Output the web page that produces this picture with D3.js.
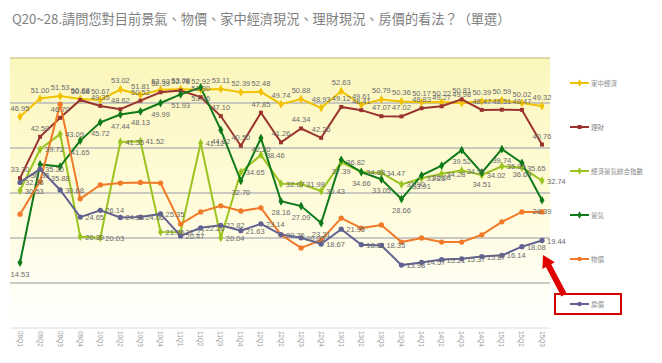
<!DOCTYPE html>
<html>
<head>
<meta charset="utf-8">
<script src="https://cdn.jsdelivr.net/npm/d3@7"></script>
<style>
  body { margin: 0; background: #fff; }
  svg { display: block; }
</style>
</head>
<body>
<div id="chart"></div>
<script>
var quarters = ['09Q1','09Q2','09Q3','09Q4','10Q1','10Q2','10Q3','10Q4','11Q1','11Q2','11Q3','11Q4',
  '12Q1','12Q2','12Q3','12Q4','13Q1','13Q2','13Q3','13Q4','14Q1','14Q2','14Q3','14Q4','15Q1','15Q2','15Q3'];

var family = [46.95,51.00,51.53,50.88,50.67,53.02,51.81,52.93,53.08,52.92,53.11,52.39,52.48,49.74,50.88,
  48.93,52.63,49.61,50.79,50.36,50.17,50.22,49.98,50.39,50.59,50.02,49.32];
var finance = [33.30,42.50,46.70,50.68,49.35,48.62,50.52,52.39,52.78,51.30,47.10,40.50,47.85,41.26,44.34,
  42.26,49.12,48.41,47.07,47.02,48.83,49.27,50.81,48.47,48.51,48.47,40.76];
var composite = [30.53,39.72,43.09,20.30,20.03,41.35,41.52,21.36,21.27,41.12,20.04,34.65,38.46,32.07,31.98,
  30.43,36.82,34.68,34.47,31.90,33.28,34.28,34.97,34.02,35.95,35.65,32.74];
var economy = [14.53,36.35,35.88,41.65,45.72,47.44,48.13,49.99,51.93,53.46,44.02,32.70,42.20,28.16,27.09,
  23.31,37.39,34.66,33.05,28.66,33.91,36.08,39.52,34.51,39.74,36.69,28.39];
var prices = [25.30,32.58,49.75,28.70,31.80,32.20,32.35,32.20,23.10,25.80,27.16,26.00,26.70,20.70,17.80,
  19.50,24.40,22.20,22.90,19.10,20.00,19.10,19.10,20.70,23.60,25.80,25.80];
var housing = [32.36,35.30,30.68,24.65,26.14,24.56,24.66,25.35,20.47,22.26,22.82,21.63,23.14,20.76,20.05,
  18.67,21.95,18.51,18.35,13.98,14.57,15.21,15.37,15.87,16.14,18.08,19.44];

var seriesNames = ['家中經濟','理財','經濟景氣綜合指數','景氣','物價','房價'];
var yTicks = [0,10,20,30,40,50,60];

var series = [
  { name: seriesNames[0], values: family,    color: '#f2c200', symbol: d3.symbolDiamond, label: 'above' },
  { name: seriesNames[1], values: finance,   color: '#9b3430', symbol: d3.symbolSquare,  label: 'above' },
  { name: seriesNames[2], values: composite, color: '#9cc420', symbol: d3.symbolDiamond, label: 'right' },
  { name: seriesNames[3], values: economy,   color: '#0e7a1a', symbol: d3.symbolDiamond, label: 'below' },
  { name: seriesNames[4], values: prices,    color: '#f07a28', symbol: d3.symbolCircle,  label: 'none' },
  { name: seriesNames[5], values: housing,   color: '#626292', symbol: d3.symbolCircle,  label: 'right' }
];

var width = 662, height = 363;
var svg = d3.select('#chart').append('svg')
  .attr('width', width)
  .attr('height', height);

var x = d3.scalePoint().domain(quarters).range([20, 542]);
var y = d3.scaleLinear().domain([0, 60]).range([328, 58]);

// plot background, yellow fading to white
var grad = svg.append('defs').append('linearGradient')
  .attr('id', 'bg').attr('x1', 0).attr('y1', 0).attr('x2', 0).attr('y2', 1);
grad.append('stop').attr('offset', '0%').attr('stop-color', '#fbf6bb');
grad.append('stop').attr('offset', '55%').attr('stop-color', '#fffcdc');
grad.append('stop').attr('offset', '100%').attr('stop-color', '#ffffff');

svg.append('rect')
  .attr('x', 10).attr('y', y(60))
  .attr('width', 540).attr('height', y(0) - y(60))
  .attr('fill', 'url(#bg)');

// title
svg.append('text')
  .attr('x', 12).attr('y', 24)
  .attr('font-family', '"Noto Sans CJK TC", "Noto Sans", sans-serif')
  .attr('font-size', 13.2)
  .attr('fill', '#7f7f7f')
  .text('Q20~28.請問您對目前景氣、物價、家中經濟現況、理財現況、房價的看法？（單選）');

// grid
svg.append('g').selectAll('line')
  .data(yTicks)
  .enter().append('line')
  .attr('x1', 10).attr('x2', 550)
  .attr('y1', function (d) { return y(d); })
  .attr('y2', function (d) { return y(d); })
  .attr('stroke', function (d) { return d == 60 ? '#d6cc9a' : (d == 0 ? '#dcdcdc' : '#b8b8b8'); })
  .attr('stroke-width', function (d) { return d == 0 ? 1 : 1.5; });

// x axis labels, rotated
svg.append('g').selectAll('text')
  .data(quarters)
  .enter().append('text')
  .attr('transform', function (d) { return 'translate(' + (x(d) - 2.5) + ',331) rotate(90)'; })
  .attr('font-family', '"Liberation Sans", Arial, sans-serif')
  .attr('font-size', 6.5)
  .attr('fill', '#9a9a9a')
  .text(function (d) { return d; });

var line = d3.line()
  .x(function (d, i) { return x(quarters[i]); })
  .y(function (d) { return y(d); });

var plot = svg.append('g');

series.forEach(function (s) {
  plot.append('path')
    .datum(s.values)
    .attr('d', line)
    .attr('fill', 'none')
    .attr('stroke', s.color)
    .attr('stroke-width', 2);
});

series.forEach(function (s) {
  plot.append('g').selectAll('path')
    .data(s.values)
    .enter().append('path')
    .attr('d', d3.symbol().type(s.symbol).size(s.symbol == d3.symbolSquare ? 16 : 22))
    .attr('transform', function (d, i) { return 'translate(' + x(quarters[i]) + ',' + y(d) + ')'; })
    .attr('fill', s.color);
});

// data labels
series.forEach(function (s) {
  if (s.label == 'none') return;
  plot.append('g').selectAll('text')
    .data(s.values)
    .enter().append('text')
    .attr('x', function (d, i) {
      var px = x(quarters[i]);
      return s.label == 'right' ? px + 5 : px;
    })
    .attr('y', function (d) {
      var py = y(d);
      if (s.label == 'above') return py - 6;
      if (s.label == 'below') return py + 14;
      return py + 3;
    })
    .attr('text-anchor', s.label == 'right' ? 'start' : 'middle')
    .attr('font-family', '"Liberation Sans", Arial, sans-serif')
    .attr('font-size', 7.5)
    .attr('fill', '#6a6a6a')
    .text(function (d) { return d.toFixed(2); });
});

// legend
var legendY = [83, 127, 171, 215, 259, 304];

svg.append('rect')
  .attr('x', 555).attr('y', 294)
  .attr('width', 66).attr('height', 20)
  .attr('fill', '#fff')
  .attr('stroke', '#d40000')
  .attr('stroke-width', 2);

var legend = svg.append('g').selectAll('g')
  .data(series)
  .enter().append('g')
  .attr('transform', function (d, i) { return 'translate(570,' + legendY[i] + ')'; });

legend.append('line')
  .attr('x1', 0).attr('x2', 19)
  .attr('stroke', function (d) { return d.color; })
  .attr('stroke-width', 2);
legend.append('path')
  .attr('d', function (d) { return d3.symbol().type(d.symbol).size(16)(); })
  .attr('transform', 'translate(9.5,0)')
  .attr('fill', function (d) { return d.color; });
legend.append('text')
  .attr('x', 21).attr('y', 2.5)
  .attr('font-family', '"Noto Sans CJK TC", sans-serif')
  .attr('font-size', 6.5)
  .attr('fill', '#8a8a8a')
  .text(function (d) { return d.name; });

// red arrow pointing to the housing line end
var tail = [564, 295], tip = [543, 255];
var ang = Math.atan2(tip[1] - tail[1], tip[0] - tail[0]);
var len = Math.hypot(tip[0] - tail[0], tip[1] - tail[1]);
var arrow = svg.append('g')
  .attr('transform', 'translate(' + tail[0] + ',' + tail[1] + ') rotate(' + (ang * 180 / Math.PI) + ')');
arrow.append('path')
  .attr('d', 'M0,-3 L' + (len - 12) + ',-3 L' + (len - 12) + ',-7 L' + len + ',0 L' + (len - 12) + ',7 L' + (len - 12) + ',3 L0,3 Z')
  .attr('fill', '#e00000');
</script>
</body>
</html>
